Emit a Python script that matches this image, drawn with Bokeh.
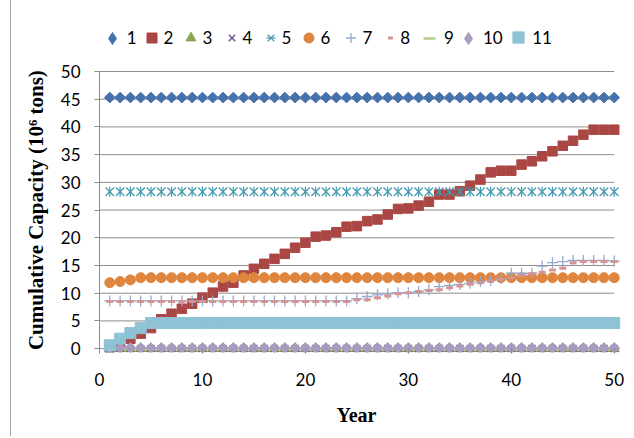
import math
from bokeh.plotting import figure
from bokeh.models import Range1d, Legend, LegendItem, FixedTicker
from bokeh.embed import file_html
from bokeh.resources import INLINE

# ---------------- data ----------------
years = [1, 2, 3, 4, 5, 6, 7, 8, 9, 10, 11, 12, 13, 14, 15, 16, 17, 18, 19, 20,
         21, 22, 23, 24, 25, 26, 27, 28, 29, 30, 31, 32, 33, 34, 35, 36, 37, 38, 39, 40,
         41, 42, 43, 44, 45, 46, 47, 48, 49, 50]

s1 = [45.3, 45.3, 45.3, 45.3, 45.3, 45.3, 45.3, 45.3, 45.3, 45.3,
      45.3, 45.3, 45.3, 45.3, 45.3, 45.3, 45.3, 45.3, 45.3, 45.3,
      45.3, 45.3, 45.3, 45.3, 45.3, 45.3, 45.3, 45.3, 45.3, 45.3,
      45.3, 45.3, 45.3, 45.3, 45.3, 45.3, 45.3, 45.3, 45.3, 45.3,
      45.3, 45.3, 45.3, 45.3, 45.3, 45.3, 45.3, 45.3, 45.3, 45.3]
s2 = [0.2, 0.9, 1.8, 2.7, 3.7, 5.3, 6.3, 7.2, 8.1, 9.2,
      10.1, 11.2, 11.9, 13.2, 14.4, 15.3, 16.2, 17.1, 18.2, 19.1,
      20.2, 20.4, 21.0, 22.0, 22.1, 23.0, 23.3, 24.2, 25.2, 25.3,
      25.8, 26.5, 27.8, 27.8, 28.4, 29.4, 30.5, 31.8, 32.1, 32.1,
      33.2, 33.8, 34.7, 35.6, 36.6, 37.5, 38.6, 39.5, 39.5, 39.5]
s3 = [0, 0, 0, 0, 0, 0, 0, 0, 0, 0, 0, 0, 0, 0, 0, 0, 0, 0, 0, 0, 0, 0, 0, 0, 0,
      0, 0, 0, 0, 0, 0, 0, 0, 0, 0, 0, 0, 0, 0, 0, 0, 0, 0, 0, 0, 0, 0, 0, 0, 0]
s4 = [0, 0, 0, 0, 0, 0, 0, 0, 0, 0, 0, 0, 0, 0, 0, 0, 0, 0, 0, 0, 0, 0, 0, 0, 0,
      0, 0, 0, 0, 0, 0, 0, 0, 0, 0, 0, 0, 0, 0, 0, 0, 0, 0, 0, 0, 0, 0, 0, 0, 0]
s5 = [28.3, 28.3, 28.3, 28.3, 28.3, 28.3, 28.3, 28.3, 28.3, 28.3,
      28.3, 28.3, 28.3, 28.3, 28.3, 28.3, 28.3, 28.3, 28.3, 28.3,
      28.3, 28.3, 28.3, 28.3, 28.3, 28.3, 28.3, 28.3, 28.3, 28.3,
      28.3, 28.3, 28.3, 28.3, 28.3, 28.3, 28.3, 28.3, 28.3, 28.3,
      28.3, 28.3, 28.3, 28.3, 28.3, 28.3, 28.3, 28.3, 28.3, 28.3]
s6 = [11.9, 12.1, 12.4, 12.8, 12.8, 12.8, 12.8, 12.8, 12.8, 12.8,
      12.8, 12.8, 12.8, 12.8, 12.8, 12.8, 12.8, 12.8, 12.8, 12.8,
      12.8, 12.8, 12.8, 12.8, 12.8, 12.8, 12.8, 12.8, 12.8, 12.8,
      12.8, 12.8, 12.8, 12.8, 12.8, 12.8, 12.8, 12.8, 12.8, 12.8,
      12.8, 12.8, 12.8, 12.8, 12.8, 12.8, 12.8, 12.8, 12.8, 12.8]
s7 = [8.6, 8.6, 8.6, 8.6, 8.6, 8.6, 8.6, 8.6, 8.6, 8.6,
      8.6, 8.6, 8.6, 8.6, 8.6, 8.6, 8.6, 8.6, 8.6, 8.6,
      8.6, 8.6, 8.6, 8.6, 9.0, 9.4, 9.7, 9.9, 10.1, 10.1,
      10.3, 10.6, 11.2, 11.4, 11.6, 11.8, 12.1, 12.3, 12.6, 13.6,
      13.6, 13.6, 14.9, 15.5, 15.7, 15.9, 15.9, 15.9, 15.9, 15.8]
s8 = [8.5, 8.5, 8.5, 8.5, 8.5, 8.5, 8.5, 8.5, 8.5, 8.5,
      8.5, 8.5, 8.5, 8.5, 8.5, 8.5, 8.5, 8.5, 8.5, 8.5,
      8.5, 8.5, 8.5, 8.5, 8.8, 8.8, 9.2, 9.5, 9.9, 10.1,
      10.3, 10.5, 10.6, 11.0, 11.3, 11.6, 11.9, 12.2, 12.5, 12.8,
      13.2, 13.5, 13.8, 14.2, 14.5, 15.5, 15.7, 15.7, 15.7, 15.7]
s9 = [0, 0, 0, 0, 0, 0, 0, 0, 0, 0, 0, 0, 0, 0, 0, 0, 0, 0, 0, 0, 0, 0, 0, 0, 0,
      0, 0, 0, 0, 0, 0, 0, 0, 0, 0, 0, 0, 0, 0, 0, 0, 0, 0, 0, 0, 0, 0, 0, 0, 0]
s10 = [0.1, 0.1, 0.1, 0.1, 0.1, 0.1, 0.1, 0.1, 0.1, 0.1,
       0.1, 0.1, 0.1, 0.1, 0.1, 0.1, 0.1, 0.1, 0.1, 0.1,
       0.1, 0.1, 0.1, 0.1, 0.1, 0.1, 0.1, 0.1, 0.1, 0.1,
       0.1, 0.1, 0.1, 0.1, 0.1, 0.1, 0.1, 0.1, 0.1, 0.1,
       0.1, 0.1, 0.1, 0.1, 0.1, 0.1, 0.1, 0.1, 0.1, 0.1]
s11 = [0.6, 1.8, 2.8, 3.7, 4.6, 4.6, 4.6, 4.6, 4.6, 4.6,
       4.6, 4.6, 4.6, 4.6, 4.6, 4.6, 4.6, 4.6, 4.6, 4.6,
       4.6, 4.6, 4.6, 4.6, 4.6, 4.6, 4.6, 4.6, 4.6, 4.6,
       4.6, 4.6, 4.6, 4.6, 4.6, 4.6, 4.6, 4.6, 4.6, 4.6,
       4.6, 4.6, 4.6, 4.6, 4.6, 4.6, 4.6, 4.6, 4.6, 4.6]

series_labels = ["1", "2", "3", "4", "5", "6", "7", "8", "9", "10", "11"]
x_ticks = [0, 10, 20, 30, 40, 50]
y_ticks = [0, 5, 10, 15, 20, 25, 30, 35, 40, 45, 50]

colors = ["#4572AD", "#AA4643", "#89A54E", "#71588F", "#4198AF", "#E0853D",
          "#93A9D0", "#D59392", "#B3CB8C", "#A99BBD", "#8EC3D6"]

GRID = "#8C8C8C"
NBSP = "\u00a0"

# frame extends above 50 to host the legend row (axis/grid stop at 50)
FRAME_LEFT, FRAME_BOTTOM = 88, 352
p = figure(width=620, height=436, output_backend="svg", toolbar_location=None,
           x_range=Range1d(0, 50.9), y_range=Range1d(-0.7, 59.2),
           min_border_left=FRAME_LEFT, min_border_right=8, min_border_top=20,
           min_border_bottom=436 - FRAME_BOTTOM,
           styles={"border-left": "1px solid #a6a6a6", "margin-left": "10px"})
p.outline_line_color = None
p.xgrid.visible = False
p.ygrid.visible = False

# horizontal gridlines (incl. the zero line) spanning the x axis extent
p.segment(x0=[x_ticks[0]] * len(y_ticks), x1=[x_ticks[-1]] * len(y_ticks), y0=y_ticks, y1=y_ticks,
          line_color=GRID, line_width=1)

rot = math.pi / 4
r1 = p.scatter(years, s1, marker="square", angle=rot, size=7.6, fill_color=colors[0], line_color=colors[0])
r2 = p.scatter(years, s2, marker="square", size=9.5, fill_color=colors[1], line_color=colors[1])
r3 = p.scatter(years, s3, marker="triangle", size=10, fill_color=colors[2], line_color=colors[2])
r4 = p.scatter(years, s4, marker="x", size=10, line_color=colors[3], line_width=1.5)
r5a = p.scatter(years, s5, marker="x", size=12, line_color=colors[4], line_width=1.2)
r5b = p.scatter(years, s5, marker="dash", angle=math.pi / 2, size=10, line_color=colors[4], line_width=1.2)
r6 = p.scatter(years, s6, marker="circle", size=10, fill_color=colors[5], line_color=colors[5])
r7 = p.scatter(years, s7, marker="cross", size=11, line_color=colors[6], line_width=1.3)
r8 = p.scatter(years, s8, marker="dash", size=7, line_color=colors[7], line_width=3)
r9 = p.scatter(years, s9, marker="dash", size=10, line_color=colors[8], line_width=2.5)
r10 = p.scatter(years, s10, marker="square", angle=rot, size=7.6, fill_color=colors[9], line_color=colors[9])
r11 = p.scatter(years, s11, marker="square", size=11, fill_color=colors[10], line_color=colors[10])

# hidden twins used only for the legend swatches of the diamond series
r1_leg = p.scatter(years, s1, marker="diamond", fill_color=colors[0], line_color=colors[0], visible=False)
r10_leg = p.scatter(years, s10, marker="diamond", fill_color=colors[9], line_color=colors[9], visible=False)

rends = [[r1_leg], [r2], [r3], [r4], [r5a, r5b], [r6], [r7], [r8], [r9], [r10_leg], [r11]]

# legend layout (screen px): swatch centre, swatch box (controls swatch size), label offset
sw_center = [111.7, 151, 190, 231, 270, 308, 350, 390.5, 429, 468, 518]
sw_box = [(30, 30), (25, 25), (25, 25), (23, 25), (23, 25), (25, 25), (25, 25),
          (12.5, 25), (30, 30), (30, 30), (27.5, 27.5)]
lab_off = [10.5, 10.5, 10.5, 10.5, 10.5, 10.5, 10.5, 10.5, 10.5, 12, 12]
LEG_CY = 37.5
CANVAS_X0 = 11
for lab, rr, cx, (gw, gh), off in zip(series_labels, rends, sw_center, sw_box, lab_off):
    vx = cx - CANVAS_X0 - FRAME_LEFT - gw / 2
    vy = FRAME_BOTTOM - LEG_CY - gh / 2
    leg = Legend(items=[LegendItem(label=lab, renderers=rr)], orientation="horizontal",
                 location=(vx, vy), glyph_width=int(round(gw)), glyph_height=int(round(gh)),
                 label_standoff=int(round(off - gw / 2)), spacing=0,
                 padding=0, margin=0, label_width=0, label_height=0,
                 border_line_alpha=0, background_fill_alpha=0, inactive_fill_alpha=0,
                 label_text_font="Lato", label_text_font_size="17px", label_text_color="#000000")
    p.add_layout(leg)

for ax in (p.xaxis, p.yaxis):
    ax.major_tick_line_color = GRID
    ax.minor_tick_out = 0
    ax.minor_tick_in = 0
    ax.major_label_text_font = "Lato"
    ax.major_label_text_font_size = "17px"
    ax.major_label_text_color = "#000000"
    ax.axis_label_text_font = "Liberation Serif"
    ax.axis_label_text_font_style = "bold"
    ax.axis_label_text_color = "#000000"
    ax.bounds = (0, 50)

p.xaxis.ticker = FixedTicker(ticks=x_ticks)
p.yaxis.ticker = FixedTicker(ticks=y_ticks)
p.xaxis.axis_line_color = None
p.xaxis.major_tick_in = 4
p.xaxis.major_tick_out = 1
p.xaxis.major_label_standoff = 19
p.xaxis.axis_label_standoff = 15
p.xaxis.axis_label_text_font_size = "20px"
p.yaxis.axis_line_color = GRID
p.yaxis.major_tick_in = 0
p.yaxis.major_tick_out = 5
p.yaxis.major_label_standoff = 14
p.yaxis.axis_label_standoff = 10
p.yaxis.axis_label_text_font_size = "21px"
# trailing no-break spaces re-centre the titles on the 0-50 axis extent
p.xaxis.axis_label = "Year" + NBSP * 2
p.yaxis.axis_label = "Cumulative Capacity (10\u2076 tons)" + NBSP * 9

open("out.html", "w").write(file_html(p, INLINE))
